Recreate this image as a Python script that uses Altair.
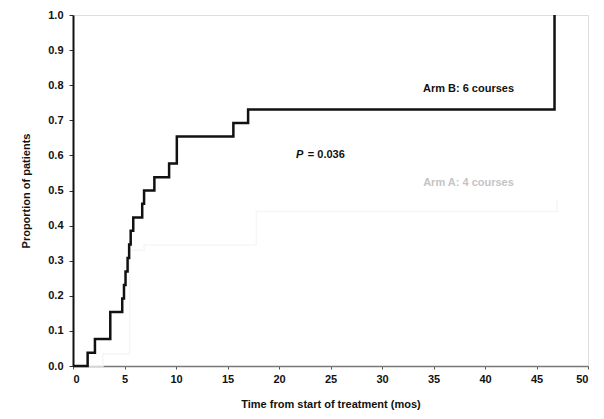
import altair as alt
import pandas as pd

# Arm B: 6 courses (step curve)
arm_b_time = [0, 1.42, 2.13, 3.62, 4.78, 4.95, 5.1, 5.3, 5.45, 5.6, 5.85, 6.72, 6.9, 7.9, 9.33, 10.08, 15.57, 17.0, 46.75]
arm_b_prop = [0, 0.038, 0.077, 0.154, 0.192, 0.231, 0.269, 0.308, 0.346, 0.385, 0.423, 0.462, 0.5, 0.538, 0.577, 0.654, 0.692, 0.731, 1.0]

# Arm A: 4 courses (barely visible in the reference)
arm_a_time = [0, 2.9, 5.5, 6.9, 17.8, 47.0]
arm_a_prop = [0, 0.035, 0.33, 0.345, 0.44, 0.475]

x_ticks = [0, 5, 10, 15, 20, 25, 30, 35, 40, 45, 50]
y_ticks = [0.0, 0.1, 0.2, 0.3, 0.4, 0.5, 0.6, 0.7, 0.8, 0.9, 1.0]

label_text = ["Arm B: 6 courses", "Arm A: 4 courses"]
label_x = [38.4, 38.4]
label_y = [0.79, 0.52]
label_color = ["#111111", "#c4c4c4"]

FONT = "Liberation Sans"

df_b = pd.DataFrame({"t": arm_b_time, "p": arm_b_prop})
df_a = pd.DataFrame({"t": arm_a_time, "p": arm_a_prop})
df_lab = pd.DataFrame({"text": label_text, "t": label_x, "p": label_y, "c": label_color})

xscale = alt.Scale(domain=[0, 50], nice=False, zero=True)
yscale = alt.Scale(domain=[0, 1], nice=False)

xenc = alt.X("t:Q", scale=xscale, axis=alt.Axis(
    values=x_ticks, title="Time from start of treatment (mos)", grid=False, labelOverlap=False,
    labelFont=FONT, labelFontWeight="bold", labelFontSize=11, labelColor="#111",
    titleFont=FONT, titleFontWeight="bold", titleFontSize=11, titleColor="#111",
    domainColor="#777", domainWidth=1.5, tickColor="#555", tickSize=3,
    labelPadding=4, titlePadding=14))
yenc = alt.Y("p:Q", scale=yscale, axis=alt.Axis(
    values=y_ticks, format=".1f", title="Proportion of patients", grid=False, labelOverlap=False,
    labelFont=FONT, labelFontWeight="bold", labelFontSize=11, labelColor="#111",
    titleFont=FONT, titleFontWeight="bold", titleFontSize=11, titleColor="#111",
    domainColor="#111", domainWidth=2, tickColor="#333", tickSize=4,
    labelPadding=6, titlePadding=16))

line_a = alt.Chart(df_a).mark_line(interpolate="step-after", color="#f6f6f6", strokeWidth=1.5).encode(
    x=xenc, y=yenc)
line_b = alt.Chart(df_b).mark_line(interpolate="step-after", color="#111111", strokeWidth=2.5).encode(
    x=xenc, y=yenc)

labels = alt.Chart(df_lab).mark_text(font=FONT, fontWeight="bold", fontSize=11, align="center", baseline="middle").encode(
    x=xenc, y=yenc, text="text:N", color=alt.Color("c:N", scale=None))

p_italic = alt.Chart(pd.DataFrame({"t": [22.0], "p": [0.60], "text": ["P"]})).mark_text(
    font=FONT, fontWeight="bold", fontStyle="italic", fontSize=11, align="center", baseline="middle", color="#111"
).encode(x=xenc, y=yenc, text="text:N")
p_val = alt.Chart(pd.DataFrame({"t": [22.8], "p": [0.60], "text": ["= 0.036"]})).mark_text(
    font=FONT, fontWeight="bold", fontSize=11, align="left", baseline="middle", color="#111"
).encode(x=xenc, y=yenc, text="text:N")

chart = alt.layer(line_a, line_b, labels, p_italic, p_val).properties(
    width=515, height=351,
    autosize=alt.AutoSizeParams(type="none"),
    padding={"left": 65, "top": 7, "right": 8, "bottom": 45},
).configure_view(stroke="#888", strokeWidth=1.5).configure(background="white")

chart.save("out.html", embed_options={"renderer": "svg", "actions": False})
